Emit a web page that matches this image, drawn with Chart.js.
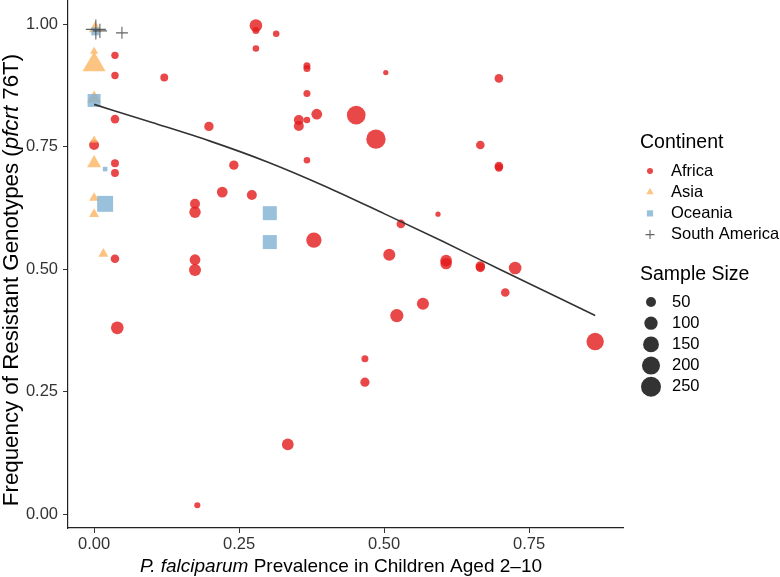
<!DOCTYPE html>
<html>
<head>
<meta charset="utf-8">
<script src="https://cdn.jsdelivr.net/npm/chart.js@4.4.1/dist/chart.umd.min.js"></script>
<style>
  html, body { margin: 0; padding: 0; background: #fff; }
</style>
</head>
<body>
<canvas id="chart" width="780" height="577"></canvas>
<script>
// --- data ---
const africaX = [0.036, 0.036, 0.121, 0.036, 0.000, 0.036, 0.036, 0.198, 0.241, 0.221,
                 0.272, 0.174, 0.174, 0.036, 0.174, 0.174, 0.040, 0.178, 0.334, 0.279,
                 0.279, 0.314, 0.279, 0.367, 0.367, 0.367, 0.384, 0.353, 0.353, 0.367,
                 0.452, 0.486, 0.503, 0.367, 0.379, 0.529, 0.593, 0.509, 0.607, 0.607,
                 0.567, 0.522, 0.467, 0.467, 0.698, 0.666, 0.698, 0.698, 0.666, 0.666,
                 0.726, 0.709, 0.864];
const africaY = [0.936, 0.895, 0.891, 0.806, 0.753, 0.716, 0.696, 0.791, 0.712, 0.657,
                 0.651, 0.633, 0.616, 0.521, 0.519, 0.498, 0.380, 0.018, 0.142, 0.997,
                 0.987, 0.980, 0.950, 0.915, 0.909, 0.858, 0.816, 0.804, 0.792, 0.804,
                 0.814, 0.765, 0.901, 0.722, 0.559, 0.592, 0.612, 0.529, 0.517, 0.511,
                 0.429, 0.405, 0.317, 0.269, 0.889, 0.753, 0.710, 0.707, 0.506, 0.503,
                 0.502, 0.452, 0.352];
const africaN = [20, 20, 25, 33, 50, 25, 25, 42, 42, 60,
                 50, 50, 70, 33, 60, 80, 90, 8, 75, 90,
                 16, 12, 12, 16, 16, 16, 60, 50, 50, 12,
                 215, 232, 2, 12, 140, 33, 1, 80, 75, 70,
                 80, 100, 16, 40, 33, 33, 33, 30, 45, 40,
                 90, 33, 185];

const asiaX = [0.002, 0.000, 0.000, 0.000, 0.000, 0.000, 0.000, 0.000, 0.016];
const asiaY = [0.991, 0.944, 0.917, 0.848, 0.763, 0.716, 0.645, 0.612, 0.531];
const asiaN = [45, 8, 178, 55, 8, 55, 20, 20, 20];

const oceaniaX = [0.002, 0.000, 0.019, 0.019, 0.303, 0.303];
const oceaniaY = [0.985, 0.844, 0.704, 0.633, 0.614, 0.555];
const oceaniaN = [38, 127, 1, 200, 150, 150];

const southAmericaX = [0.003, 0.010, 0.048];
const southAmericaY = [0.989, 0.986, 0.982];
const southAmericaN = [117, 49, 31];

// fitted smooth curve
const fitX = [0, 0.1, 0.2, 0.3, 0.4, 0.5, 0.6, 0.7, 0.8, 0.864];
const fitY = [0.836, 0.799, 0.761, 0.718, 0.668, 0.613, 0.557, 0.499, 0.442, 0.405];

const xTicks = [0, 0.25, 0.5, 0.75];
const yTicks = [0, 0.25, 0.5, 0.75, 1];
const continents = ['Africa', 'Asia', 'Oceania', 'South America'];
const sizeBreaks = [50, 100, 150, 200, 250];

// colours
const colAfrica = 'rgba(228, 26, 28, 0.8)';
const colAsia = 'rgba(253, 180, 98, 0.8)';
const colOceania = 'rgba(128, 177, 211, 0.8)';
const colSouthAm = 'rgba(60, 60, 60, 0.8)';
const FONT = '"Liberation Sans", Arial, Helvetica, sans-serif';

// size scale: area grows linearly with sample size
const circleR = n => Math.sqrt(6.25 + 0.375 * n);

const pts = (xs, ys) => xs.map((x, i) => ({ x: x, y: ys[i] }));

// axis titles + two-part legend, drawn on the canvas
function drawParts(ctx, parts, size, cx, cy) {
    let total = 0;
    parts.forEach(p => {
        ctx.font = (p.italic ? 'italic ' : '') + size + 'px ' + FONT;
        p.w = ctx.measureText(p.text).width;
        total += p.w;
    });
    let x = cx - total / 2;
    parts.forEach(p => {
        ctx.font = (p.italic ? 'italic ' : '') + size + 'px ' + FONT;
        ctx.fillText(p.text, x, cy);
        x += p.w;
    });
}

function drawSymbol(ctx, kind, x, y, r, color) {
    ctx.fillStyle = color;
    ctx.strokeStyle = color;
    ctx.beginPath();
    if (kind === 'circle') {
        ctx.arc(x, y, r, 0, Math.PI * 2);
        ctx.fill();
    } else if (kind === 'triangle') {
        ctx.moveTo(x, y - r);
        ctx.lineTo(x + r * 0.866, y + r * 0.5);
        ctx.lineTo(x - r * 0.866, y + r * 0.5);
        ctx.closePath();
        ctx.fill();
    } else if (kind === 'rect') {
        ctx.rect(x - r, y - r, 2 * r, 2 * r);
        ctx.fill();
    } else {
        ctx.lineWidth = 1.1;
        ctx.moveTo(x - r, y); ctx.lineTo(x + r, y);
        ctx.moveTo(x, y - r); ctx.lineTo(x, y + r);
        ctx.stroke();
    }
}

const xTitle = [
    { text: 'P. falciparum', italic: true },
    { text: ' Prevalence in Children Aged 2\u201310', italic: false }
];
const yTitle = [
    { text: 'Frequency of Resistant Genotypes (', italic: false },
    { text: 'pfcrt', italic: true },
    { text: ' 76T)', italic: false }
];

const annotate = {
    id: 'annotate',
    afterDraw(chart) {
        const ctx = chart.ctx;
        ctx.save();
        ctx.fillStyle = '#000';
        ctx.textBaseline = 'middle';
        ctx.textAlign = 'left';
        drawParts(ctx, xTitle, 19, 341, 567);
        ctx.save();
        ctx.translate(12, 280);
        ctx.rotate(-Math.PI / 2);
        drawParts(ctx, yTitle, 22.3, 0, 0);
        ctx.restore();

        // legend: continent
        const symbols = [
            ['circle', 3, colAfrica],
            ['triangle', 4.3, colAsia],
            ['rect', 3.1, colOceania],
            ['cross', 4.5, colSouthAm]
        ];
        ctx.fillStyle = '#000';
        ctx.font = '19.5px ' + FONT;
        ctx.fillText('Continent', 640, 143);
        continents.forEach((name, i) => {
            const y = 171 + i * 21.2;
            drawSymbol(ctx, symbols[i][0], 650, y, symbols[i][1], symbols[i][2]);
            ctx.fillStyle = '#000';
            ctx.font = '16.5px ' + FONT;
            ctx.fillText(name, 671, y);
        });

        // legend: sample size
        ctx.font = '19.5px ' + FONT;
        ctx.fillText('Sample Size', 640, 275);
        sizeBreaks.forEach((n, i) => {
            const y = 302 + i * 21.2;
            drawSymbol(ctx, 'circle', 651, y, circleR(n), 'rgba(0,0,0,0.8)');
            ctx.fillStyle = '#000';
            ctx.font = '16.5px ' + FONT;
            ctx.fillText(String(n), 672, y);
        });
        ctx.restore();
    }
};

const shapeSet = (label, xs, ys, ns, style, color, factor) => ({
    label: label,
    data: pts(xs, ys),
    pointStyle: style,
    pointRadius: ns.map(n => circleR(n) * factor),
    backgroundColor: color,
    borderColor: color,
    pointBorderWidth: style === 'cross' ? 1.1 : 0,
    clip: false
});

new Chart(document.getElementById('chart'), {
    type: 'scatter',
    data: {
        datasets: [
            {
                type: 'line',
                label: 'fit',
                data: pts(fitX, fitY),
                showLine: true,
                borderColor: '#333333',
                borderWidth: 1.6,
                pointRadius: 0,
                cubicInterpolationMode: 'monotone',
                fill: false,
                clip: false
            },
            shapeSet('South America', southAmericaX, southAmericaY, southAmericaN, 'cross', colSouthAm, 1.414),
            shapeSet('Oceania', oceaniaX, oceaniaY, oceaniaN, 'rect', colOceania, 1.253),
            shapeSet('Asia', asiaX, asiaY, asiaN, 'triangle', colAsia, 1.555),
            shapeSet('Africa', africaX, africaY, africaN, 'circle', colAfrica, 1)
        ]
    },
    options: {
        responsive: false,
        animation: false,
        events: [],
        layout: { autoPadding: false, padding: { left: 0, right: 157, top: 0, bottom: 0 } },
        plugins: {
            legend: { display: false },
            tooltip: { enabled: false }
        },
        scales: {
            x: {
                type: 'linear',
                min: -0.045,
                max: 0.912,
                afterBuildTicks: s => { s.ticks = xTicks.map(v => ({ value: v })); },
                afterFit: s => { s.height = 49; s.paddingLeft = 0; s.paddingRight = 0; },
                ticks: {
                    callback: v => v.toFixed(2),
                    font: { family: FONT, size: 16.5 },
                    color: '#333',
                    padding: 2,
                    maxRotation: 0
                },
                grid: { drawOnChartArea: false, tickLength: 5, color: '#333', lineWidth: 1 },
                border: { display: true, color: '#222', width: 1.2 }
            },
            y: {
                type: 'linear',
                min: -0.0285,
                max: 1.049,
                afterBuildTicks: s => { s.ticks = yTicks.map(v => ({ value: v })); },
                afterFit: s => { s.width = 68; s.paddingTop = 0; s.paddingBottom = 0; },
                ticks: {
                    callback: v => v.toFixed(2),
                    font: { family: FONT, size: 16.5 },
                    color: '#333',
                    padding: 5
                },
                grid: { drawOnChartArea: false, tickLength: 5, color: '#333', lineWidth: 1 },
                border: { display: true, color: '#222', width: 1.2 }
            }
        }
    },
    plugins: [annotate]
});
</script>
</body>
</html>
